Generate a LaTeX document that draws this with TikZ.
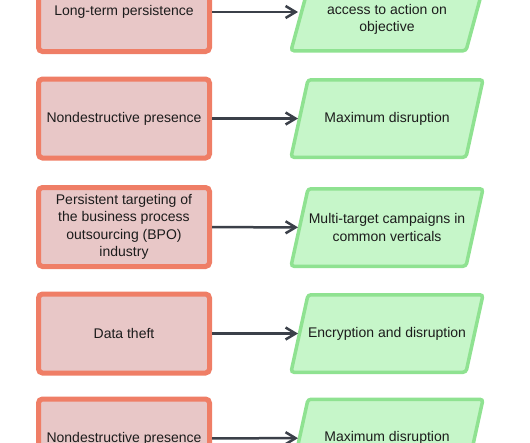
\documentclass[tikz,border=0pt]{standalone}
\usepackage{fontspec}
\setsansfont{Liberation Sans}
\usetikzlibrary{arrows.meta,backgrounds}
\definecolor{RSSalmon}{HTML}{EF7E66}
\definecolor{RSRose}{HTML}{E8C7C7}
\definecolor{RSLeaf}{HTML}{8FE291}
\definecolor{RSMint}{HTML}{C6F6C9}
\definecolor{RSSlate}{HTML}{3B4049}
\definecolor{RSInk}{HTML}{1C1C1C}
% slanted frame behind an effect node
\newcommand{\RSframe}[1]{\draw[frame] ([xshift=-8.5pt]#1.south west) -- ([xshift=8.5pt]#1.north west)
  -- ([xshift=8.5pt]#1.north east) -- ([xshift=-8.5pt]#1.south east) -- cycle;}

\begin{document}
\begin{tikzpicture}[
    x=1pt,y=-1pt,font=\sffamily\fontsize{14}{17.5}\selectfont,text=RSInk,
    cause/.style={draw=RSSalmon,line width=5pt,rounded corners=4pt,fill=RSRose,
      minimum width=171pt,minimum height=79pt,align=center,inner sep=4pt},
    effect/.style={minimum width=175pt,minimum height=77.5pt,align=center,inner sep=0pt,outer sep=0pt},
    frame/.style={draw=RSLeaf,line width=3.5pt,rounded corners=3pt,fill=RSMint},
    arrow/.style={-{Straight Barb[length=10pt,width=12pt]},line width=2.5pt,draw=RSSlate,shorten >=1.5pt}
  ]
    \useasboundingbox (0,0) rectangle (530,442);
    \clip (0,0) rectangle (530,442);

    \node[cause] (persist) at (124,12) {Long-term persistence};
    \node[effect,minimum height=62.5pt] (access) at (387,19.5) {access to action on\\objective};
    \node[cause] (quiet) at (124,118.5) {Nondestructive presence};
    \node[effect] (maxdis) at (387,118.5) {Maximum disruption};
    \node[cause] (bpo) at (124,227) {Persistent targeting of\\the business process\\outsourcing (BPO)\\industry};
    \node[effect] (multi) at (387,227.5) {Multi-target campaigns in\\common verticals};
    \node[cause] (theft) at (124,333.5) {Data theft};
    \node[effect] (encrypt) at (387,333.5) {Encryption and disruption};
    \node[cause] (quietb) at (124,438.5) {Nondestructive presence};
    \node[effect] (maxdisb) at (387,438) {Maximum disruption};

    \begin{scope}[on background layer]
      \clip (0,0) rectangle (530,442);
      \RSframe{access}
      \RSframe{maxdis}
      \RSframe{multi}
      \RSframe{encrypt}
      \RSframe{maxdisb}
    \end{scope}

    \draw[arrow] (persist.east) -- (persist.east -| access.west);
    \draw[arrow] (quiet) -- (maxdis);
    \draw[arrow] (bpo) -- (multi);
    \draw[arrow] (theft) -- (encrypt);
    \draw[arrow] (quietb) -- (maxdisb);
\end{tikzpicture}
\end{document}
